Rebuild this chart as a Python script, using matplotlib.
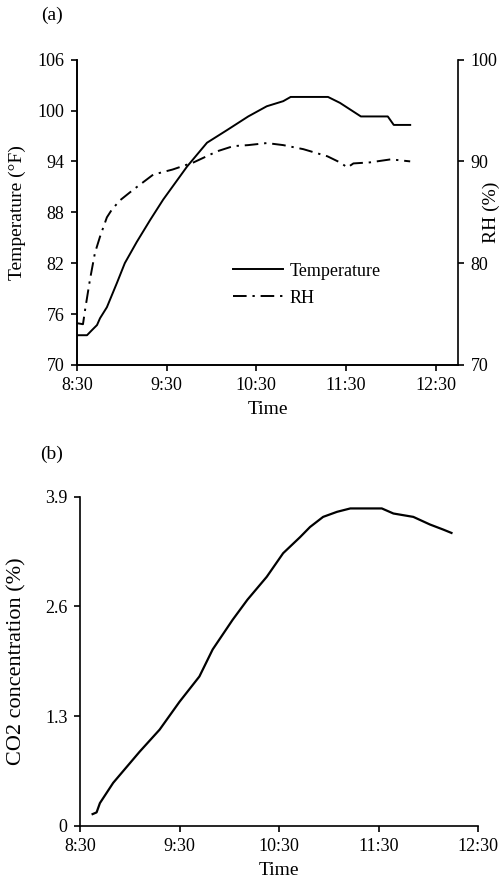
import matplotlib.pyplot as plt

plt.rcParams["font.family"] = ["Liberation Serif", "DejaVu Serif"]
plt.rcParams["font.size"] = 13

# minutes after 8:30
temp_time = [0, 6.7, 10, 13.4, 15.4, 20, 26.8, 32, 40, 49, 57.7, 73.7, 87, 100.5, 114.6,
             127, 138, 143, 168, 176, 190, 208, 212, 223]
temp_vals = [73.5, 73.5, 74.1, 74.7, 75.5, 76.8, 79.7, 82.0, 84.5, 87.1, 89.5, 93.4, 96.2,
             97.7, 99.3, 100.5, 101.1, 101.6, 101.6, 100.9, 99.3, 99.3, 98.3, 98.3]

rh_time = [0, 4, 5.4, 8.7, 12, 15.4, 20, 23.5, 29, 37.5, 51, 64, 78, 94, 104.6, 114.6,
           127, 138, 151.5, 167.6, 176, 181, 185, 196, 210, 223]
rh_vals = [74.1, 74.0, 75.4, 78.4, 81.0, 82.6, 84.5, 85.3, 86.2, 87.2, 88.7, 89.2, 89.9,
           91.0, 91.5, 91.6, 91.8, 91.6, 91.2, 90.5, 89.9, 89.4, 89.8, 89.9, 90.2, 90.0]

co2_time = [7.6, 10, 12, 20, 36, 48, 60, 72, 80, 92, 101, 112.6, 122.5, 132.7, 138.7,
            146.6, 155, 163, 173, 182, 189, 201, 211, 219, 224]
co2_vals = [0.14, 0.16, 0.27, 0.51, 0.88, 1.14, 1.47, 1.77, 2.09, 2.44, 2.68, 2.95, 3.23,
            3.42, 3.54, 3.66, 3.72, 3.76, 3.76, 3.76, 3.70, 3.66, 3.57, 3.51, 3.47]

time_ticks = [0, 60, 120, 180, 240]
time_labels = ["8:30", "9:30", "10:30", "11:30", "12:30"]
temp_ticks = [70, 76, 82, 88, 94, 100, 106]
rh_ticks = [70, 80, 90, 100]
co2_ticks = [0, 1.3, 2.6, 3.9]
co2_labels = ["0", "1.3", "2.6", "3.9"]

fig = plt.figure(figsize=(5, 8.9), dpi=100)


def style(ax, sides):
    for s in ["top", "right", "left", "bottom"]:
        ax.spines[s].set_visible(s in sides)
        ax.spines[s].set_linewidth(1.2)
    ax.tick_params(direction="out", length=4, width=1.2, colors="black", pad=5)


# (a) temperature + RH
ax = fig.add_axes([0.154, 0.590, 0.762, 0.343])
ax2 = ax.twinx()
l1, = ax.plot(temp_time, temp_vals, color="black", lw=1.4, label="Temperature")
l2, = ax2.plot(rh_time, rh_vals, color="black", lw=1.4, dashes=(7, 3, 1.2, 3), label="RH")
ax.set_xlim(0, 255)
ax.set_ylim(70, 106)
ax2.set_ylim(70, 100)
ax.set_xticks(time_ticks, time_labels)
ax.set_yticks(temp_ticks)
ax2.set_yticks(rh_ticks)
style(ax, ["left", "bottom"])
style(ax2, ["left", "bottom", "right"])
ax.set_xlabel("Time", fontsize=14, labelpad=5)
ax.set_ylabel("Temperature (°F)", fontsize=14)
ax.yaxis.set_label_coords(-0.134, 0.5)
ax2.set_ylabel("RH (%)", fontsize=14)
ax2.yaxis.set_label_coords(1.066, 0.5)
ax2.legend(handles=[l1, l2], loc="upper left", bbox_to_anchor=(0.409, 0.335),
           frameon=False, borderpad=0, borderaxespad=0, handlelength=2.8,
           handletextpad=0.35, labelspacing=0.55)
fig.text(0.104, 0.983, "(a)", ha="center", va="center", fontsize=14)

# (b) CO2
bx = fig.add_axes([0.16, 0.072, 0.796, 0.370])
bx.plot(co2_time, co2_vals, color="black", lw=1.6)
bx.set_xlim(0, 240)
bx.set_ylim(0, 3.9)
bx.set_xticks(time_ticks, time_labels)
bx.set_yticks(co2_ticks, co2_labels)
style(bx, ["left", "bottom"])
bx.set_xlabel("Time", fontsize=14, labelpad=5)
bx.set_ylabel("CO2 concentration (%)", fontsize=16)
bx.yaxis.set_label_coords(-0.135, 0.5)
fig.text(0.104, 0.489, "(b)", ha="center", va="center", fontsize=14)

fig.savefig("out.png", dpi=100)
